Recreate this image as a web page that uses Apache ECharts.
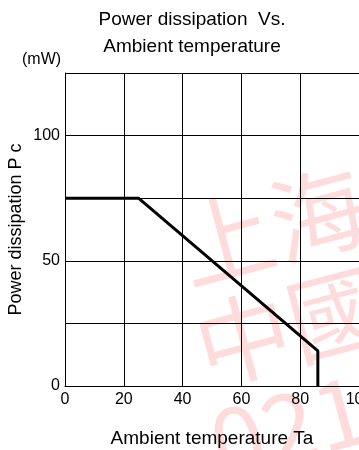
<!DOCTYPE html>
<html>
<head>
<meta charset="utf-8">
<script src="https://cdn.jsdelivr.net/npm/echarts@6/dist/echarts.min.js"></script>
<style>
  html, body { margin: 0; padding: 0; background: #fff; }
  #main { width: 359px; height: 450px; }
</style>
</head>
<body>
<div id="main"></div>
<script>
// derating curve: temperature (°C) vs power (mW)
var tempPts = [0, 25, 86, 86];
var powerPts = [75, 75, 14, 0];
var xTicks = [0, 20, 40, 60, 80, 100];
var yLabels = [0, 50, 100];

var FONT = '"Liberation Sans", sans-serif';

var myChart = echarts.init(document.getElementById('main'));

var lineData = [];
for (var i = 0; i < tempPts.length; i++) {
    lineData.push([tempPts[i], powerPts[i]]);
}

myChart.setOption({
    animation: false,
    title: {
        text: 'Power dissipation  Vs.\nAmbient temperature',
        left: 187,
        textAlign: 'center',
        top: 1,
        textStyle: { fontFamily: FONT, fontSize: 19, fontWeight: 'normal', color: '#000', lineHeight: 27 }
    },
    grid: { left: 65, right: 0, top: 73, bottom: 64, outerBoundsMode: 'none', containLabel: false },
    xAxis: {
        type: 'value',
        min: 0, max: 100, interval: 20,
        name: 'Ambient temperature Ta',
        nameLocation: 'middle',
        nameGap: 43,
        nameTextStyle: { fontFamily: FONT, fontSize: 19, color: '#000' },
        axisLine: { lineStyle: { color: '#000', width: 1 } },
        axisTick: { show: false },
        axisLabel: { fontFamily: FONT, fontSize: 16, color: '#000', margin: 6 },
        splitLine: { show: true, lineStyle: { color: '#000', width: 1 } }
    },
    yAxis: {
        type: 'value',
        min: 0, max: 125, interval: 25,
        name: 'Power dissipation P c',
        nameLocation: 'middle',
        nameGap: 40,
        nameMoveOverlap: false,
        nameTextStyle: { fontFamily: FONT, fontSize: 18, color: '#000' },
        axisLine: { show: true, lineStyle: { color: '#000', width: 1 } },
        axisTick: { show: false },
        axisLabel: {
            fontFamily: FONT, fontSize: 16, color: '#000', margin: 5,
            formatter: function (v) { return yLabels.indexOf(v) >= 0 ? String(v) : ''; }
        },
        splitLine: { show: true, lineStyle: { color: '#000', width: 1 } }
    },
    graphic: [
        { type: 'text', left: 22, top: 52, style: { text: '(mW)', font: '16px ' + FONT, fill: '#000' } },
        // watermark
        { type: 'text', x: 168, y: 205, rotation: 0.26, z: -1,
          style: { text: '上海', font: '95px "Noto Sans CJK SC"', fill: 'rgba(255,80,80,0.2)' } },
        { type: 'text', x: 185, y: 305, rotation: 0.26, z: -1,
          style: { text: '中國', font: '95px "Noto Sans CJK TC"', fill: 'rgba(255,80,80,0.2)' } },
        { type: 'text', x: 200, y: 400, rotation: 0.26, z: -1,
          style: { text: '021-', font: '95px "Noto Sans CJK SC"', fill: 'rgba(255,80,80,0.2)' } }
    ],
    series: [{
        type: 'line',
        data: lineData,
        symbol: 'none',
        lineStyle: { color: '#000', width: 3 }
    }]
});
</script>
</body>
</html>
